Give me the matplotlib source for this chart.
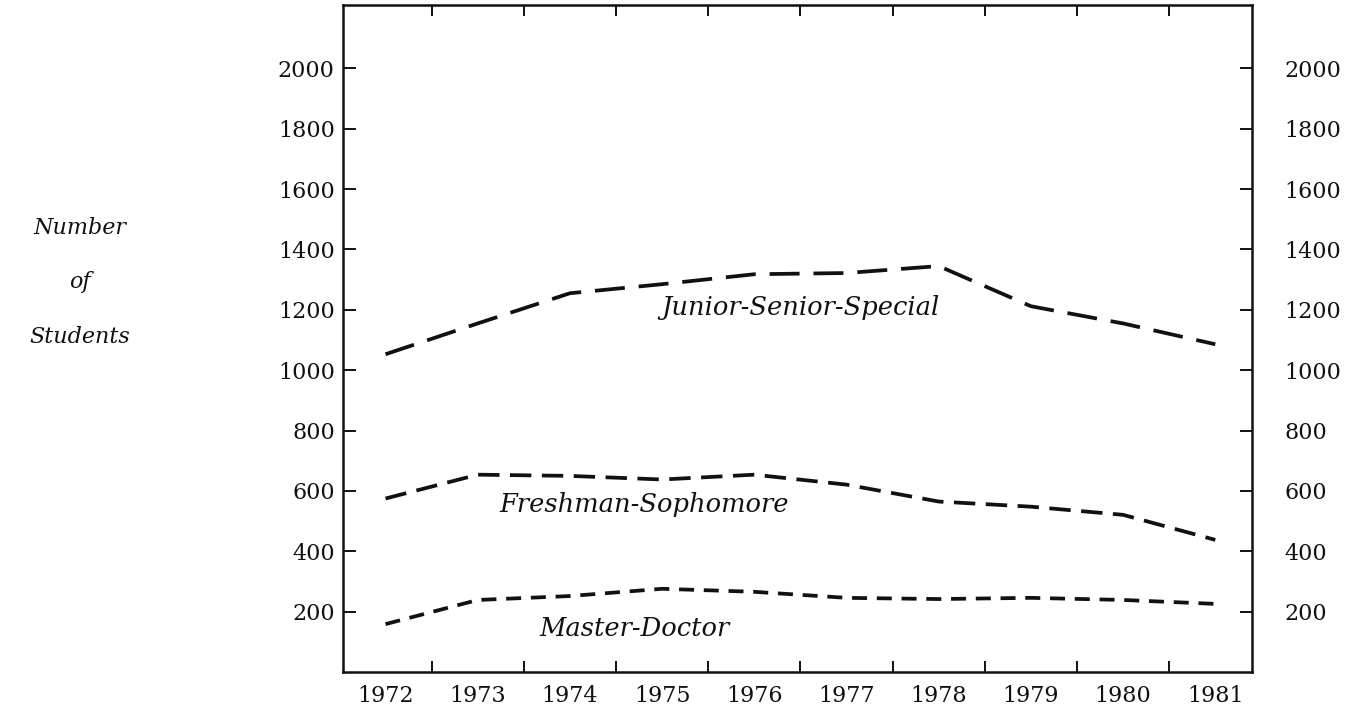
"""
Enrollment by level, 1972-1981: recreation of a scanned line chart.
"""
import matplotlib
matplotlib.use('Agg')
import matplotlib.pyplot as plt

# ==== data ==== #
YEARS = [1972, 1973, 1974, 1975, 1976, 1977, 1978, 1979, 1980, 1981]
JUNIOR_SENIOR = [1053, 1155, 1255, 1285, 1318, 1322, 1345, 1212, 1155, 1086]
FRESHMAN_SOPH = [575, 654, 650, 638, 654, 621, 565, 548, 521, 438]
MASTER_DOCTOR = [159, 239, 252, 276, 266, 246, 242, 246, 239, 226]
Y_TICKS = [200, 400, 600, 800, 1000, 1200, 1400, 1600, 1800, 2000]
HALF_YEARS = [y + 0.5 for y in YEARS[:-1]]

FONT = 'DejaVu Serif'
INK = '#111111'


def main():
    plt.rcParams['font.family'] = FONT
    fig = plt.figure(figsize=(13.67, 7.06), dpi=100)
    ax = fig.add_axes([0.251, 0.048, 0.665, 0.945])

    lw = 2.7
    ax.plot(YEARS, JUNIOR_SENIOR, color=INK, lw=lw, dashes=(8.0, 3.7),
            dash_capstyle='butt')
    ax.plot(YEARS, FRESHMAN_SOPH, color=INK, lw=lw, dashes=(5.7, 2.8),
            dash_capstyle='butt')
    ax.plot(YEARS, MASTER_DOCTOR, color=INK, lw=lw, dashes=(4.0, 2.6),
            dash_capstyle='butt')

    labelKw = dict(fontsize=18.5, style='italic', color=INK, ha='center', va='center')
    ax.text(1976.5, 1208, 'Junior-Senior-Special', **labelKw)
    ax.text(1974.8, 555, 'Freshman-Sophomore', **labelKw)
    ax.text(1974.7, 143, 'Master-Doctor', **labelKw)

    ax.set_xlim(1971.54, 1981.4)
    ax.set_ylim(0, 2210)

    ax.set_xticks(YEARS)
    ax.set_xticklabels([str(y) for y in YEARS])
    ax.set_xticks(HALF_YEARS, minor=True)
    ax.tick_params(axis='x', which='major', length=0, pad=9, labelsize=16,
                   colors=INK)
    ax.tick_params(axis='x', which='minor', direction='in', length=8, width=1.4,
                   top=True, bottom=True, colors=INK)

    ax.set_yticks(Y_TICKS)
    ax.tick_params(axis='y', which='major', direction='in', length=9, width=1.4,
                   left=True, right=True, labelleft=True, labelright=True,
                   labelsize=16, colors=INK, pad=6)

    # right labels sit further out than the left ones
    for tick in ax.yaxis.get_major_ticks():
        tick.label2.set_x(1.026)
        tick.label2.set_horizontalalignment('left')

    for spine in ax.spines.values():
        spine.set_linewidth(1.8)
        spine.set_color(INK)

    for text, yPix in (('Number', 228), ('of', 282), ('Students', 337)):
        fig.text(80 / 1367, 1 - yPix / 706, text, fontsize=16, style='italic',
                 color=INK, ha='center', va='center')

    fig.savefig('out.png', dpi=100)


if __name__ == '__main__':
    main()
